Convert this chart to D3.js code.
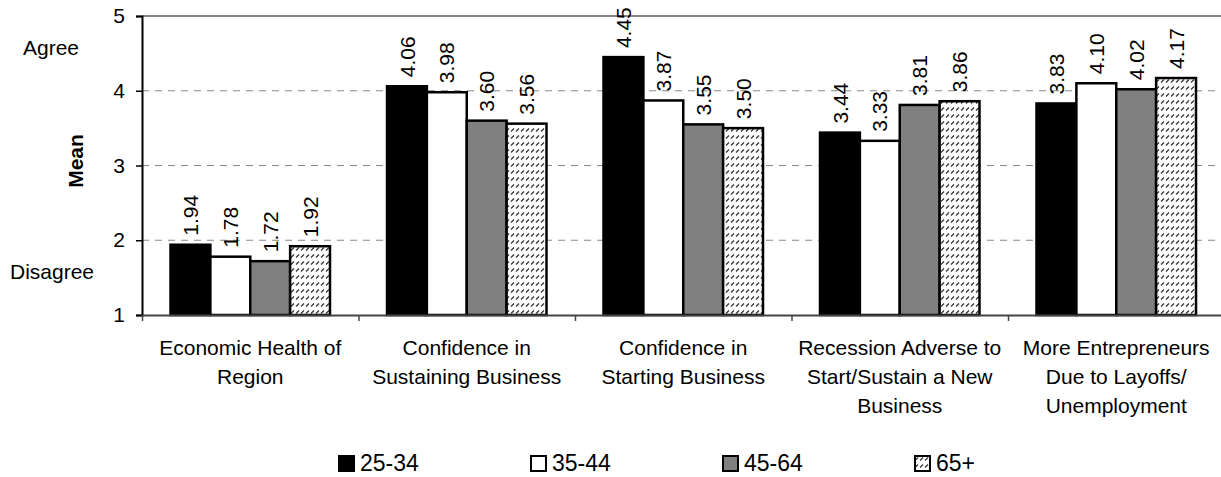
<!DOCTYPE html>
<html>
<head>
<meta charset="utf-8">
<script src="https://cdn.jsdelivr.net/npm/d3@7"></script>
<style>
  body { margin: 0; background: #fff; }
  svg text { font-family: "Liberation Sans", Arial, sans-serif; fill: #000; }
</style>
</head>
<body>
<div id="chart"></div>
<script>
// categories (line-broken as in the original) and age groups
const categories = [
  ['Economic Health of', 'Region'],
  ['Confidence in', 'Sustaining Business'],
  ['Confidence in', 'Starting Business'],
  ['Recession Adverse to', 'Start/Sustain a New', 'Business'],
  ['More Entrepreneurs', 'Due to Layoffs/', 'Unemployment'],
];
const groups = ['25-34', '35-44', '45-64', '65+'];

const vals2534 = [1.94, 4.06, 4.45, 3.44, 3.83];
const vals3544 = [1.78, 3.98, 3.87, 3.33, 4.10];
const vals4564 = [1.72, 3.60, 3.55, 3.81, 4.02];
const vals65 = [1.92, 3.56, 3.50, 3.86, 4.17];

const yTicks = [1, 2, 3, 4, 5];

const series = [vals2534, vals3544, vals4564, vals65];
const FILL = ['#000000', '#ffffff', '#808080', 'url(#hatch)'];

const W = 1221, H = 477;
const pad = {l: 142, t: 16, r: 1224.5, b: 315};

const svg = d3.select('#chart').append('svg')
  .attr('width', W).attr('height', H);

// hatch pattern for 65+
const pat = svg.append('defs').append('pattern')
  .attr('id', 'hatch')
  .attr('patternUnits', 'userSpaceOnUse')
  .attr('width', 5).attr('height', 7);
pat.append('rect').attr('width', 5).attr('height', 7).attr('fill', '#fff');
pat.append('line')
  .attr('x1', 1).attr('y1', 5.5).attr('x2', 4).attr('y2', 2.5)
  .attr('stroke', '#333').attr('stroke-width', 1.3);

const catIdx = d3.range(categories.length);
const x0 = d3.scaleBand().domain(catIdx).range([pad.l, pad.r]);
const x1 = d3.scaleBand().domain(groups).range([28.5, x0.bandwidth() - 28.5]);
const y = d3.scaleLinear().domain([1, 5]).range([pad.b, pad.t]);
const xEdge = d3.scaleLinear().domain([0, categories.length]).range([pad.l, pad.r]);

// gridlines
svg.append('g')
  .selectAll('line')
  .data([2, 3, 4])
  .join('line')
  .attr('x1', pad.l).attr('x2', pad.r)
  .attr('y1', d => y(d)).attr('y2', d => y(d))
  .attr('stroke', '#888').attr('stroke-dasharray', '7,6');

// top border of plot area
svg.append('line')
  .attr('x1', pad.l).attr('x2', pad.r)
  .attr('y1', y(5)).attr('y2', y(5))
  .attr('stroke', '#888').attr('stroke-width', 2);

// bars
const rows = [];
catIdx.forEach(i => groups.forEach((g, j) => rows.push({i, g, j, v: series[j][i]})));

svg.append('g')
  .selectAll('rect')
  .data(rows)
  .join('rect')
  .attr('x', d => x0(d.i) + x1(d.g))
  .attr('y', d => y(d.v))
  .attr('width', x1.bandwidth())
  .attr('height', d => y(1) - y(d.v))
  .attr('fill', d => FILL[d.j])
  .attr('stroke', '#000')
  .attr('stroke-width', 2.5);

// value labels, rotated
svg.append('g')
  .selectAll('text')
  .data(rows)
  .join('text')
  .attr('transform', d => `translate(${x0(d.i) + x1(d.g) + x1.bandwidth() / 2}, ${y(d.v) - 9}) rotate(-90)`)
  .attr('dy', '0.36em')
  .style('font-size', '21px')
  .text(d => d.v.toFixed(2));

// y axis
const yg = svg.append('g')
  .attr('transform', `translate(${pad.l}, 0)`)
  .call(d3.axisLeft(y).tickValues(yTicks).tickFormat(d3.format('d')).tickSize(6).tickPadding(11));
yg.select('.domain').attr('stroke', '#000').attr('stroke-width', 2);
yg.selectAll('.tick line').attr('stroke', '#000').attr('stroke-width', 1.5);
yg.selectAll('.tick text').style('font-size', '21px').style('font-family', '"Liberation Sans", Arial, sans-serif');

// x axis with ticks at category edges
const xg = svg.append('g')
  .attr('transform', `translate(0, ${pad.b})`)
  .call(d3.axisBottom(xEdge).tickValues(d3.range(categories.length + 1)).tickFormat('').tickSize(6).tickSizeOuter(0));
xg.select('.domain').attr('stroke', '#444').attr('stroke-width', 2);
xg.selectAll('.tick line').attr('stroke', '#444').attr('stroke-width', 1.5);

// category labels
svg.append('g')
  .selectAll('text')
  .data(catIdx)
  .join('text')
  .attr('x', i => x0(i) + x0.bandwidth() / 2)
  .attr('y', 355)
  .attr('text-anchor', 'middle')
  .style('font-size', '21px')
  .each(function(i) {
    d3.select(this).selectAll('tspan')
      .data(categories[i])
      .join('tspan')
      .attr('x', x0(i) + x0.bandwidth() / 2)
      .attr('dy', (d, k) => k === 0 ? 0 : 29)
      .text(d => d);
  });

// y titles
svg.append('text')
  .attr('transform', 'translate(83, 161) rotate(-90)')
  .attr('text-anchor', 'middle')
  .style('font-size', '21px').style('font-weight', 'bold')
  .text('Mean');
svg.append('text').attr('x', 23).attr('y', 55).style('font-size', '21px').text('Agree');
svg.append('text').attr('x', 10).attr('y', 279).style('font-size', '21px').text('Disagree');

// legend
const leg = svg.append('g')
  .selectAll('g')
  .data(groups)
  .join('g')
  .attr('transform', (d, j) => `translate(${338 + j * 192}, 455)`);
leg.append('rect')
  .attr('x', 1).attr('y', 1)
  .attr('width', 15).attr('height', 15)
  .attr('fill', (d, j) => FILL[j])
  .attr('stroke', '#000').attr('stroke-width', 2);
leg.append('text')
  .attr('x', 22).attr('y', 16)
  .style('font-size', '23px')
  .text(d => d);
</script>
</body>
</html>
